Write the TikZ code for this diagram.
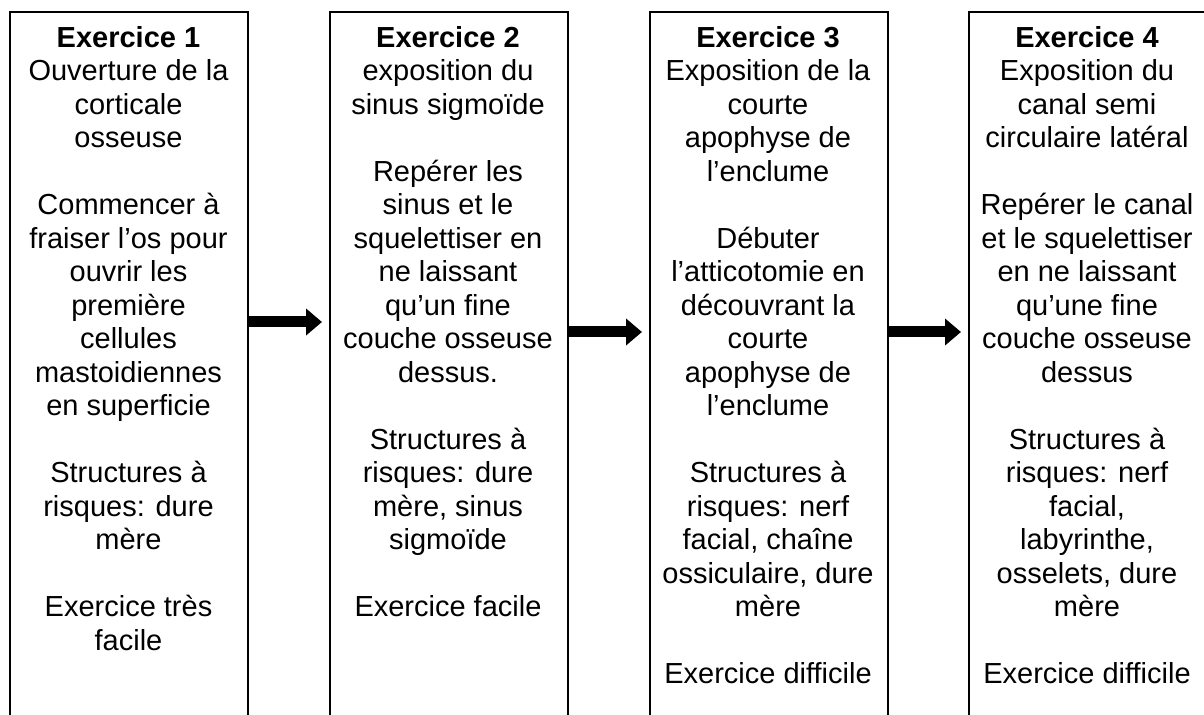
\documentclass[tikz,border=0pt]{standalone}
\usepackage{fontspec}
\setmainfont{Liberation Sans}
\usetikzlibrary{arrows.meta}
\tikzset{
  exbox/.style={draw, line width=1pt, minimum width=119pt, minimum height=370pt, anchor=north west, inner sep=0pt},
  extext/.style={anchor=north, align=center, inner sep=0pt, font=\fontsize{14.5pt}{16.75pt}\selectfont},
  exarrow/.style={line width=5.5pt, -{Triangle[length=8pt,width=13pt]}, shorten >=3.5pt}
}
\begin{document}
\begin{tikzpicture}[x=0.5pt, y=-0.5pt]
    \useasboundingbox (0,0) rectangle (1204,715);
    \clip (0,0) rectangle (1204,715);

    % Drawing box 1
    \node [exbox] (ex1) at (9,11) {};%

    % Drawing box 2
    \node [exbox] (ex2) at (329,11) {};%

    % Drawing box 3
    \node [exbox] (ex3) at (649,11) {};%

    % Drawing box 4
    \node [exbox] (ex4) at (968,11) {};%

    % Marking text 1
    \node [extext] (t1) at (128.5,26) {\textbf{Exercice 1}\\ Ouverture de la\\ corticale\\ osseuse\\[16.75pt]
        Commencer à\\ fraiser l’os pour\\ ouvrir les\\ première\\ cellules\\ mastoidiennes\\ en superficie\\[16.75pt]
        Structures à\\ risques: dure\\ mère\\[16.75pt]
        Exercice très\\ facile};%

    % Marking text 2
    \node [extext] (t2) at (448,26) {\textbf{Exercice 2}\\ exposition du\\ sinus sigmoïde\\[16.75pt]
        Repérer les\\ sinus et le\\ squelettiser en\\ ne laissant\\ qu’un fine\\ couche osseuse\\ dessus.\\[16.75pt]
        Structures à\\ risques: dure\\ mère, sinus\\ sigmoïde\\[16.75pt]
        Exercice facile};%

    % Marking text 3
    \node [extext] (t3) at (768,26) {\textbf{Exercice 3}\\ Exposition de la\\ courte\\ apophyse de\\ l’enclume\\[16.75pt]
        Débuter\\ l’atticotomie en\\ découvrant la\\ courte\\ apophyse de\\ l’enclume\\[16.75pt]
        Structures à\\ risques: nerf\\ facial, chaîne\\ ossiculaire, dure\\ mère\\[16.75pt]
        Exercice difficile};%

    % Marking text 4
    \node [extext] (t4) at (1087,26) {\textbf{Exercice 4}\\ Exposition du\\ canal semi\\ circulaire latéral\\[16.75pt]
        Repérer le canal\\ et le squelettiser\\ en ne laissant\\ qu’une fine\\ couche osseuse\\ dessus\\[16.75pt]
        Structures à\\ risques: nerf\\ facial,\\ labyrinthe,\\ osselets, dure\\ mère\\[16.75pt]
        Exercice difficile};%

    % Drawing arrows
    \coordinate (m1) at (0,322);
    \coordinate (m2) at (0,332);
    \draw [exarrow] (ex1.east |- m1) -- (ex2.west |- m1);%
    \draw [exarrow] (ex2.east |- m2) -- (ex3.west |- m2);%
    \draw [exarrow] (ex3.east |- m2) -- (ex4.west |- m2);%
\end{tikzpicture}
\end{document}
